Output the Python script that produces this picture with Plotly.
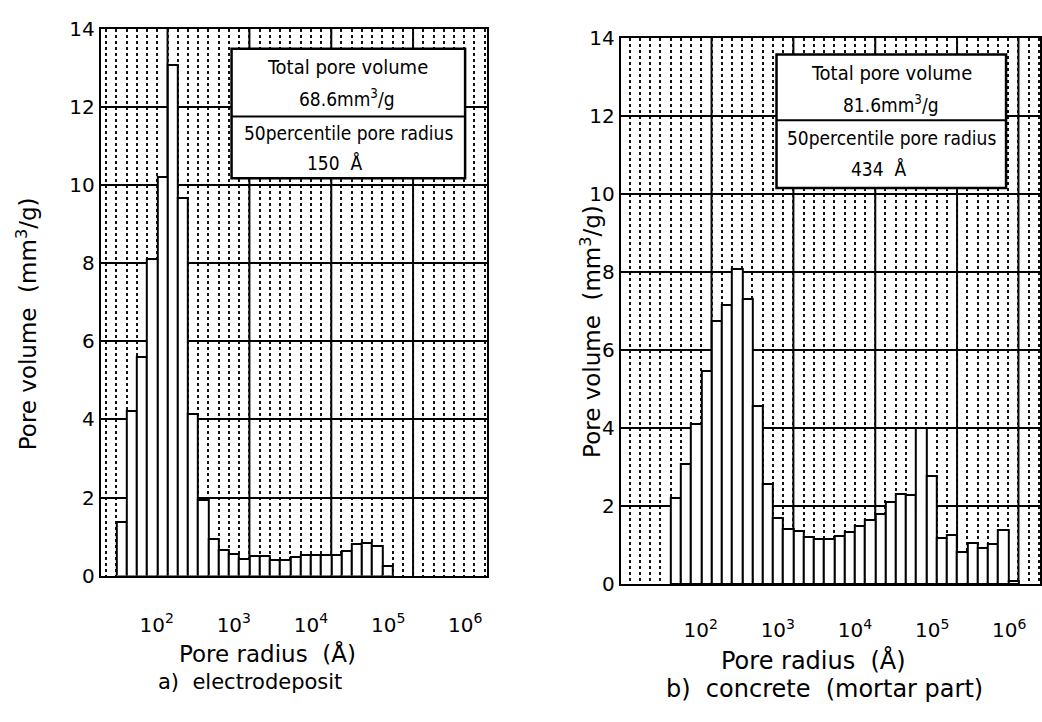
import numpy as np
import plotly.graph_objects as go

W, H = 1042, 722

# Pore volume per pore-radius class (mm^3/g)
electrodeposit_volume = [1.38, 4.22, 5.6, 8.12, 10.2, 13.08, 9.68, 4.15, 1.95, 0.93,
                         0.67, 0.56, 0.43, 0.5, 0.5, 0.4, 0.4, 0.47, 0.54, 0.54,
                         0.54, 0.52, 0.62, 0.8, 0.84, 0.77, 0.25]
concrete_volume = [2.2, 3.08, 4.1, 5.47, 6.75, 7.15, 8.07, 7.3, 4.56, 2.58,
                   1.71, 1.42, 1.36, 1.22, 1.15, 1.15, 1.24, 1.33, 1.5, 1.64,
                   1.8, 2.11, 2.32, 2.28, 4.0, 2.78, 1.18, 1.27, 0.83, 1.05,
                   0.93, 1.03, 1.4, 0.07]

# Radius classes are equal steps of log10(radius / Å)
class_width = 0.1326
electrodeposit_first_class = 1.545
concrete_first_class = 1.678

decade_ticks = [2, 3, 4, 5, 6]
decade_labels = ["10<sup>2</sup>", "10<sup>3</sup>", "10<sup>4</sup>",
                 "10<sup>5</sup>", "10<sup>6</sup>"]
y_ticks = [0, 2, 4, 6, 8, 10, 12, 14]

# heavy rulings of the chart paper (log10 radius)
paper_rulings_a = [2.141, 3.202, 4.263, 5.323]
paper_rulings_b = [2.141, 3.202, 4.263, 5.323, 6.119]

left_centres = electrodeposit_first_class + class_width * np.arange(len(electrodeposit_volume))
right_centres = concrete_first_class + class_width * np.arange(len(concrete_volume))

TEXT_FONT = "DejaVu Sans, Arial, sans-serif"
NARROW_FONT = "Liberation Sans Narrow, DejaVu Sans Condensed, Arial Narrow, DejaVu Sans, sans-serif"


def px(x):
    return x / W


def py(y):
    return 1 - y / H


fig = go.Figure()

bar_style = dict(color="white", line=dict(color="black", width=2))
fig.add_trace(go.Bar(x=left_centres, y=electrodeposit_volume, width=class_width,
                     marker=bar_style, xaxis="x", yaxis="y", showlegend=False))
fig.add_trace(go.Bar(x=right_centres, y=concrete_volume, width=class_width,
                     marker=bar_style, xaxis="x2", yaxis="y2", showlegend=False))

common_x = dict(
    tickmode="array", tickvals=decade_ticks, ticktext=decade_labels,
    showgrid=False, zeroline=False, showline=True, mirror=True,
    linecolor="black", linewidth=2, ticks="",
    tickfont=dict(family=TEXT_FONT, size=20, color="black"),
    minor=dict(tick0=1.478, dtick=class_width, showgrid=True,
               gridcolor="#111111", griddash="dot", gridwidth=1.6),
)
common_y = dict(
    range=[0, 14], tickmode="array", tickvals=y_ticks,
    showgrid=True, gridcolor="black", gridwidth=2, zeroline=False,
    showline=True, mirror=True, linecolor="black", linewidth=2, ticks="",
    tickfont=dict(family=TEXT_FONT, size=20, color="black"),
)

fig.update_layout(
    width=W, height=H, margin=dict(l=0, r=0, t=0, b=0),
    paper_bgcolor="white", plot_bgcolor="white", bargap=0,
    xaxis=dict(common_x, domain=[px(101), px(488)], range=[1.276, 6.282],
               anchor="y", ticklabelstandoff=30),
    yaxis=dict(common_y, domain=[py(583), py(17.5)], anchor="x"),
    xaxis2=dict(common_x, domain=[px(622), 1.0], range=[0.965, 6.398],
                anchor="y2", ticklabelstandoff=27),
    yaxis2=dict(common_y, domain=[py(592), py(27)], anchor="x2"),
)

shapes = []
for xv in paper_rulings_a:
    shapes.append(dict(type="line", xref="x", yref="y domain", x0=xv, x1=xv, y0=0, y1=1,
                       line=dict(color="black", width=2), layer="below"))
for xv in paper_rulings_b:
    shapes.append(dict(type="line", xref="x2", yref="y2 domain", x0=xv, x1=xv, y0=0, y1=1,
                       line=dict(color="black", width=2), layer="below"))

# summary boxes
boxes = [
    dict(x0=232, x1=466, y0=38, y1=172, ymid=108),
    dict(x0=778, x1=1008, y0=44, y1=182, ymid=112),
]
for b in boxes:
    shapes.append(dict(type="rect", xref="paper", yref="paper",
                       x0=px(b["x0"]), x1=px(b["x1"]), y0=py(b["y1"]), y1=py(b["y0"]),
                       fillcolor="white", line=dict(color="black", width=2.5), layer="above"))
    shapes.append(dict(type="line", xref="paper", yref="paper",
                       x0=px(b["x0"]), x1=px(b["x1"]), y0=py(b["ymid"]), y1=py(b["ymid"]),
                       line=dict(color="black", width=2), layer="above"))
fig.update_layout(shapes=shapes)

ann = []


def label(text, x, y, size, angle=0, family=TEXT_FONT):
    ann.append(dict(text=text, x=px(x), y=py(y), xref="paper", yref="paper",
                    showarrow=False, textangle=angle, xanchor="center", yanchor="middle",
                    font=dict(family=family, size=size, color="black")))


# box contents
label("Total pore volume", 348, 57, 20, family=NARROW_FONT)
label("68.6mm<sup>3</sup>/g", 348, 89, 19, family=NARROW_FONT)
label("50percentile pore radius", 349, 125, 19, family=NARROW_FONT)
label("150  Å", 335, 156, 19, family=NARROW_FONT)
label("Total pore volume", 893, 63, 20, family=NARROW_FONT)
label("81.6mm<sup>3</sup>/g", 893, 95, 19, family=NARROW_FONT)
label("50percentile pore radius", 893, 130, 19, family=NARROW_FONT)
label("434  Å", 880, 162, 19, family=NARROW_FONT)

# axis titles and captions
label("Pore volume  (mm<sup>3</sup>/g)", 27, 322, 23, angle=-90)
label("Pore volume  (mm<sup>3</sup>/g)", 592, 330, 23, angle=-90)
label("Pore radius  (Å)", 268, 664, 23)
label("a)  electrodeposit", 250, 693, 21)
label("Pore radius  (Å)", 815, 671, 24)
label("b)  concrete  (mortar part)", 826, 700, 24)
fig.update_layout(annotations=ann)

fig.write_html("out.html")
